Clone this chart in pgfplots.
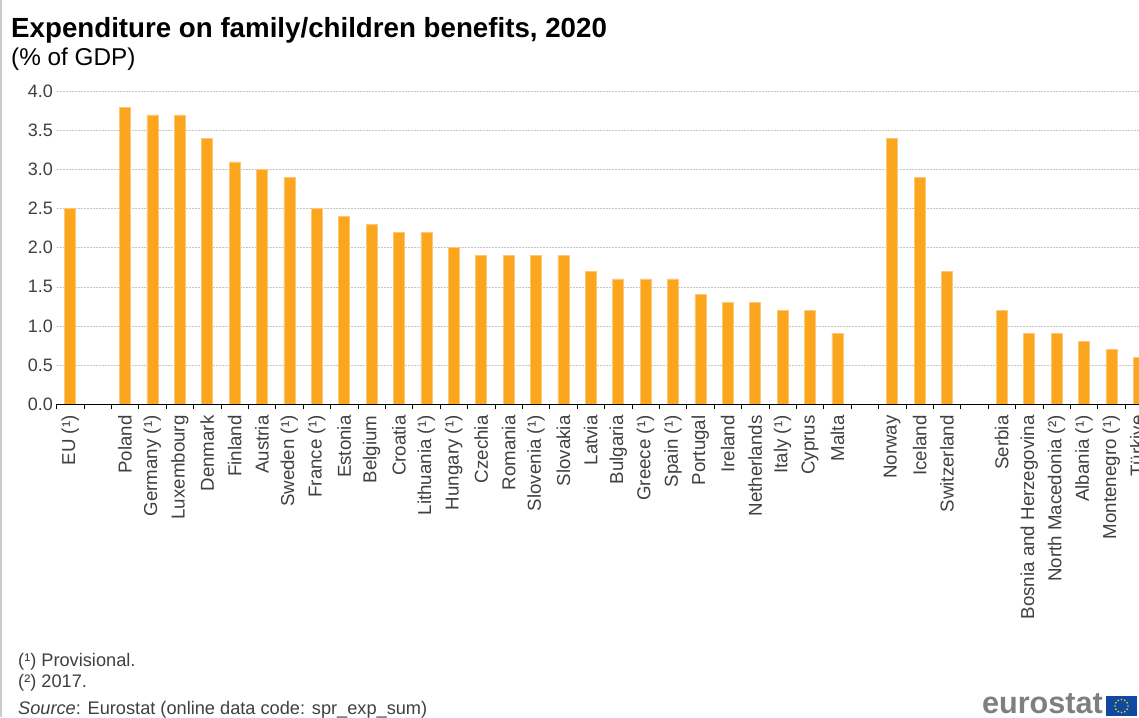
\documentclass[border=0pt]{standalone}
\usepackage{fontspec}
\setmainfont{Liberation Sans}
\usepackage{pgfplots}
\pgfplotsset{compat=1.18}
\usepackage{pgfplotstable}
\definecolor{barfill}{HTML}{FBA61C}
\definecolor{bardge}{HTML}{FCC77A}
\definecolor{ink}{HTML}{404040}
\definecolor{eublue}{HTML}{10499F}
\definecolor{eustar}{HTML}{E8D820}
\definecolor{logogrey}{HTML}{7F7F7F}

% position on the category axis, share of GDP
\pgfplotstableread{
k v
0 2.5
2 3.8
3 3.7
4 3.7
5 3.4
6 3.1
7 3.0
8 2.9
9 2.5
10 2.4
11 2.3
12 2.2
13 2.2
14 2.0
15 1.9
16 1.9
17 1.9
18 1.9
19 1.7
20 1.6
21 1.6
22 1.6
23 1.4
24 1.3
25 1.3
26 1.2
27 1.2
28 0.9
30 3.4
31 2.9
32 1.7
34 1.2
35 0.9
36 0.9
37 0.8
38 0.7
39 0.6
}\benefits

\begin{document}
\begin{tikzpicture}[x=1pt,y=1pt]
\useasboundingbox (0,0) rectangle (1139,717);
\clip (0,0) rectangle (1139,717);
\fill[white] (0,0) rectangle (1139,717);
\fill[black!20] (0,0) rectangle (1.5,717);

\node[anchor=base west,inner sep=0pt,font=\bfseries\fontsize{27.7}{30}\selectfont] at (11,679) {Expenditure on family/children benefits, 2020};
\node[anchor=base west,inner sep=0pt,font=\fontsize{24.3}{27}\selectfont] at (11,651) {(\% of GDP)};

\begin{axis}[
  at={(56.5pt,313pt)},anchor=south west,
  scale only axis,width=1082.5pt,height=312.5pt,
  xmin=-0.5,xmax=39.01,ymin=0,ymax=4,
  ybar,bar width=11pt,
  clip=true,
  axis x line*=bottom,axis y line*=left,
  y axis line style={draw=none},
  x axis line style={black,line width=0.9pt,-},
  ytick={0,0.5,...,4},
  ymajorgrids,
  y grid style={black!22,dash pattern=on 2pt off 1pt,line width=0.6pt},
  major y tick style={draw=none},
  y tick label style={font=\fontsize{18}{21}\selectfont,text=ink,
    /pgf/number format/.cd,fixed,fixed zerofill,precision=1,assume math mode=true},
  xtick={0,...,39},
  xticklabels={EU (¹),,Poland,Germany (¹),Luxembourg,Denmark,Finland,Austria,Sweden (¹),France (¹),Estonia,Belgium,Croatia,Lithuania (¹),Hungary (¹),Czechia,Romania,Slovenia (¹),Slovakia,Latvia,Bulgaria,Greece (¹),Spain (¹),Portugal,Ireland,Netherlands,Italy (¹),Cyprus,Malta,,Norway,Iceland,Switzerland,,Serbia,Bosnia and Herzegovina,North Macedonia (²),Albania (¹),Montenegro (¹),Türkiye},
  x tick label style={rotate=90,anchor=east,font=\fontsize{18.7}{22}\selectfont,text=ink,inner sep=0pt},
  xticklabel shift=7pt,
  major x tick style={draw=none},
  minor xtick={-0.5,0.5,...,39.5},
  minor tick length=5pt,
  minor x tick style={black,line width=0.7pt},
  tick pos=lower,
]
\addplot[fill=barfill,draw=bardge,line width=0.5pt] table[x=k,y=v] {\benefits};
\end{axis}

\node[anchor=base west,inner sep=0pt,font=\fontsize{18.2}{21}\selectfont,text=ink] at (18,51) {(¹) Provisional.};
\node[anchor=base west,inner sep=0pt,font=\fontsize{18.2}{21}\selectfont,text=ink] at (18,30) {(²) 2017.};
\node[anchor=base west,inner sep=0pt,font=\fontsize{18.2}{21}\selectfont,text=ink] at (18,3) {\textit{Source}: Eurostat (online data code: spr\_exp\_sum)};

% Eurostat wordmark and flag
\node[anchor=base east,inner sep=0pt,font=\bfseries\fontsize{30.6}{33}\selectfont,text=logogrey] at (1103,4) {eurostat};
\fill[eublue] (1106,1) rectangle (1137,21);
\foreach \a in {0,30,...,330}
  \fill[eustar] ({1121.5+6.5*cos(\a)},{11+6.5*sin(\a)}) circle (0.9);
\end{tikzpicture}
\end{document}
